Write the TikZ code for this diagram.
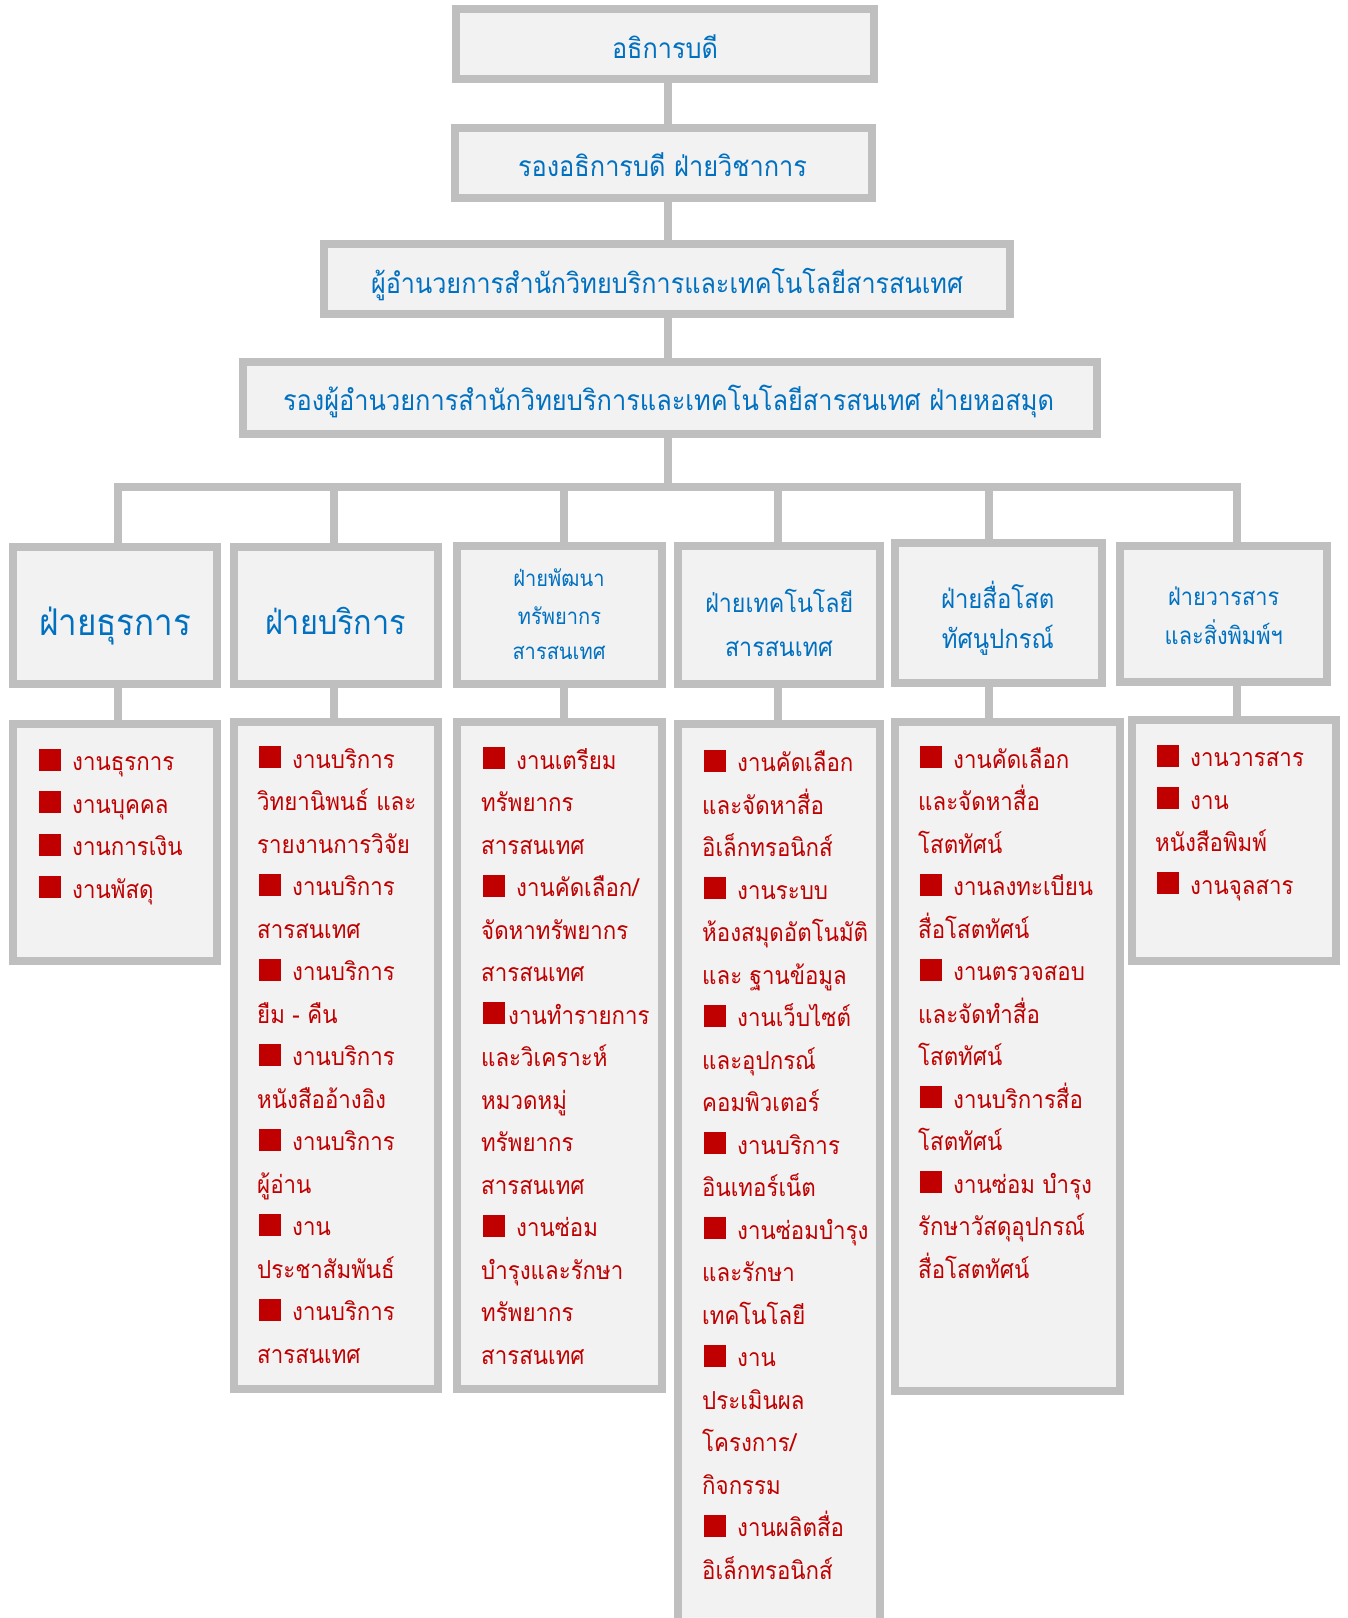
\documentclass[tikz,border=0pt]{standalone}
\usepackage{fontspec}
\newfontfamily\thaifont[Script=Thai,FakeStretch=0.9]{Loma}
\definecolor{bordergray}{HTML}{BFBFBF}
\definecolor{boxfill}{HTML}{F2F2F2}
\definecolor{titleblue}{HTML}{0070C0}
\definecolor{itemred}{HTML}{C00000}
\newlength\fitlen
\newcommand\setfit[3]{\setbox0=\hbox{\thaifont\fontsize{10}{12}\selectfont #3}\fitlen=\wd0\relax\pgfmathsetmacro#1{10*#2/\fitlen}}
\AtBeginDocument{%
\setfit\fsa{106}{อธิการบดี}%
\setfit\fsb{289}{รองอธิการบดี ฝ่ายวิชาการ}%
\setfit\fsc{592}{ผู้อำนวยการสำนักวิทยบริการและเทคโนโลยีสารสนเทศ}%
\setfit\fsd{771}{รองผู้อำนวยการสำนักวิทยบริการและเทคโนโลยีสารสนเทศ ฝ่ายหอสมุด}%
\setfit\fsA{152}{ฝ่ายธุรการ}%
\setfit\fsB{141}{ฝ่ายบริการ}%
\setfit\fsC{93}{สารสนเทศ}%
\setfit\fsD{108}{สารสนเทศ}%
\setfit\fsE{112}{ทัศนูปกรณ์}%
\setfit\fsF{111}{ฝ่ายวารสาร}%
\setfit\fszI{166}{ห้องสมุดอัตโนมัติ}%
}
\newcommand\bq{\hspace*{2pt}{\color{itemred}\rule{22pt}{22pt}}\hspace{11pt}}
\newcommand\bqn{\hspace*{2pt}{\color{itemred}\rule{22pt}{22pt}}\hspace{3pt}}
\tikzset{
  orgbox/.style={draw=bordergray,fill=boxfill,line width=8pt,inner sep=0pt},
  conn/.style={draw=bordergray,line width=8pt},
  ttl/.style={anchor=base,inner sep=0pt,text=titleblue},
  itemtxt/.style={anchor=base west,inner sep=0pt,text=itemred,font=\thaifont\fontsize{\fszI}{42.5}\selectfont},
}
\newcommand\obox[5]{\node[orgbox,minimum width={#4-#2-8},minimum height={#5-#3-8}] (#1) at ({(#2+#4)/2},{(#3+#5)/2}) {};}
\newcommand\ttline[5]{\node[ttl,font=\thaifont\fontsize{#2}{#2}\selectfont] (#1) at (#3,#4) {#5};}
\newcommand\itemcol[4]{\foreach \t [count=\i from 0] in {#4} {\node[itemtxt] (#1-\i) at (#2,{#3+\i*42.5}) {\t};}}
\begin{document}
\begin{tikzpicture}[x=1pt,y=-1pt]
\useasboundingbox (0,0) rectangle (1348,1618);
\clip (0,0) rectangle (1348,1618);
\fill[white] (0,0) rectangle (1348,1618);
% coordinates of the spine and bus
\coordinate (sp) at (668,487);
\coordinate (cA) at (117.5,487);
\coordinate (cB) at (334,487);
\coordinate (cC) at (564,487);
\coordinate (cD) at (778,487);
\coordinate (cE) at (989,487);
\coordinate (cF) at (1237,487);
% boxes
\obox{b1}{452}{5}{878}{83}
\obox{b2}{451}{124}{876}{202}
\obox{b3}{320}{240}{1014}{318}
\obox{b4}{239}{358}{1101}{438}
\obox{A5}{9}{543}{221}{688}
\obox{B5}{230}{543}{442}{688}
\obox{C5}{453}{542}{666}{688}
\obox{D5}{674}{542}{884}{688}
\obox{E5}{891}{539}{1106}{687}
\obox{F5}{1116}{542}{1331}{686}
\obox{A6}{9}{720}{221}{965}
\obox{B6}{230}{718}{442}{1393}
\obox{C6}{453}{718}{666}{1393}
\obox{D6}{674}{720}{884}{1660}
\obox{E6}{891}{718}{1124}{1395}
\obox{F6}{1128}{716}{1340}{965}
% connectors
\draw[conn] (b1.south -| sp) -- (b2.north -| sp);
\draw[conn] (b2.south -| sp) -- (b3.north -| sp);
\draw[conn] (b3.south -| sp) -- (b4.north -| sp);
\draw[conn] (b4.south -| sp) -- (sp);
\draw[conn,line cap=rect] (cA) -- (cF);
\foreach \c/\u/\l in {cA/A5/A6,cB/B5/B6,cC/C5/C6,cD/D5/D6,cE/E5/E6,cF/F5/F6}{
  \draw[conn] (\c) -- (\c |- \u.north);
  \draw[conn] (\u.south -| \c) -- (\l.north -| \c);
}
% titles
\ttline{t1}{\fsa}{665}{58.3}{อธิการบดี}
\ttline{t2}{\fsb}{662.5}{176.7}{รองอธิการบดี ฝ่ายวิชาการ}
\ttline{t3}{\fsc}{667}{293}{ผู้อำนวยการสำนักวิทยบริการและเทคโนโลยีสารสนเทศ}
\ttline{t4}{\fsd}{668.5}{410.7}{รองผู้อำนวยการสำนักวิทยบริการและเทคโนโลยีสารสนเทศ ฝ่ายหอสมุด}
\ttline{tA}{\fsA}{115}{635}{ฝ่ายธุรการ}
\ttline{tB}{\fsB}{335.5}{634}{ฝ่ายบริการ}
\ttline{tC1}{\fsC}{559}{586.7}{ฝ่ายพัฒนา}
\ttline{tC2}{\fsC}{559.5}{624}{ทรัพยากร}
\ttline{tC3}{\fsC}{559}{659.3}{สารสนเทศ}
\ttline{tD1}{\fsD}{779.3}{612.7}{ฝ่ายเทคโนโลยี}
\ttline{tD2}{\fsD}{779}{656}{สารสนเทศ}
\ttline{tE1}{\fsE}{997.7}{608.3}{ฝ่ายสื่อโสต}
\ttline{tE2}{\fsE}{997.8}{648.3}{ทัศนูปกรณ์}
\ttline{tF1}{\fsF}{1223.7}{605}{ฝ่ายวารสาร}
\ttline{tF2}{\fsF}{1223.8}{644}{และสิ่งพิมพ์ฯ}
% items
\itemcol{iA}{37}{770.7}{\bq งานธุรการ,\bq งานบุคคล,\bq งานการเงิน,\bq งานพัสดุ}
\itemcol{iB}{257}{768.3}{\bq งานบริการ,วิทยานิพนธ์ และ,รายงานการวิจัย,\bq งานบริการ,สารสนเทศ,\bq งานบริการ,ยืม - คืน,\bq งานบริการ,หนังสืออ้างอิง,\bq งานบริการ,ผู้อ่าน,\bq งาน,ประชาสัมพันธ์,\bq งานบริการ,สารสนเทศ}
\itemcol{iC}{481}{769}{\bq งานเตรียม,ทรัพยากร,สารสนเทศ,\bq งานคัดเลือก/,จัดหาทรัพยากร,สารสนเทศ,\bqn งานทำรายการ,และวิเคราะห์,หมวดหมู่,ทรัพยากร,สารสนเทศ,\bq งานซ่อม,บำรุงและรักษา,ทรัพยากร,สารสนเทศ}
\itemcol{iD}{702}{771.7}{\bq งานคัดเลือก,และจัดหาสื่อ,อิเล็กทรอนิกส์,\bq งานระบบ,ห้องสมุดอัตโนมัติ,และ ฐานข้อมูล,\bq งานเว็บไซต์,และอุปกรณ์,คอมพิวเตอร์,\bq งานบริการ,อินเทอร์เน็ต,\bq งานซ่อมบำรุง,และรักษา,เทคโนโลยี,\bq งาน,ประเมินผล,โครงการ/,กิจกรรม,\bq งานผลิตสื่อ,อิเล็กทรอนิกส์}
\itemcol{iE}{918}{768.3}{\bq งานคัดเลือก,และจัดหาสื่อ,โสตทัศน์,\bq งานลงทะเบียน,สื่อโสตทัศน์,\bq งานตรวจสอบ,และจัดทำสื่อ,โสตทัศน์,\bq งานบริการสื่อ,โสตทัศน์,\bq งานซ่อม บำรุง,รักษาวัสดุอุปกรณ์,สื่อโสตทัศน์}
\itemcol{iF}{1155}{766.7}{\bq งานวารสาร,\bq งาน,หนังสือพิมพ์,\bq งานจุลสาร}
\end{tikzpicture}
\end{document}
